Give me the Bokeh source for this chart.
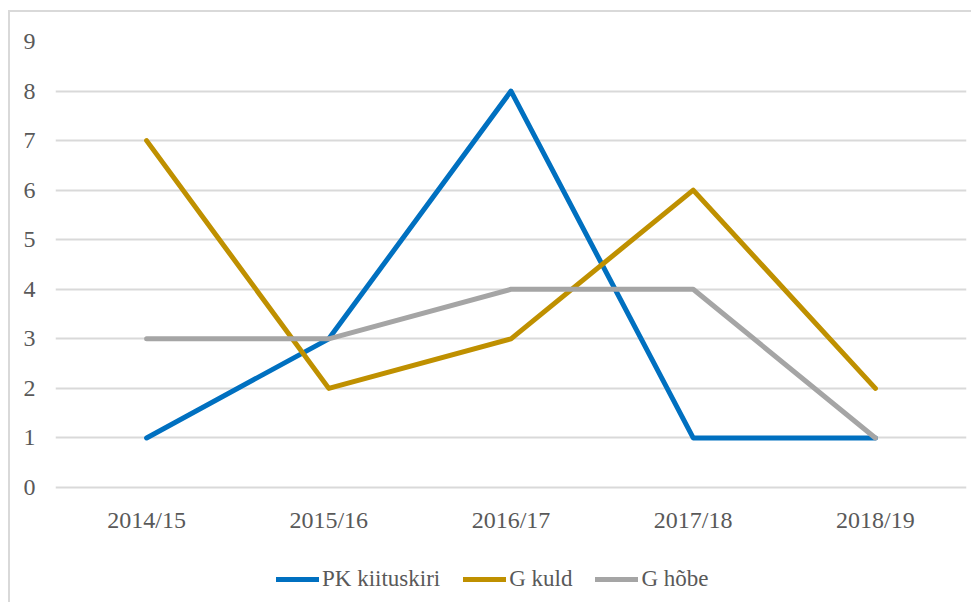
from bokeh.plotting import figure
from bokeh.models import FactorRange, Range1d, FixedTicker, Legend, LegendItem
from bokeh.embed import file_html
from bokeh.resources import INLINE

seasons = ["2014/15", "2015/16", "2016/17", "2017/18", "2018/19"]
pk_kiituskiri = [1, 3, 8, 1, 1]
g_kuld = [7, 2, 3, 6, 2]
g_hobe = [3, 3, 4, 4, 1]
y_ticks = [0, 1, 2, 3, 4, 5, 6, 7, 8, 9]

FONT = "Liberation Serif"
TXT = "#595959"

# frame reaches down to the legend row; value 0 sits 115px above the frame bottom
p = figure(x_range=FactorRange(*seasons), y_range=Range1d(-2.3206, 9),
           frame_width=911, frame_height=561,
           min_border_left=45, min_border_top=29, min_border_right=5, min_border_bottom=0,
           output_backend="svg", toolbar_location=None)
p.styles = {"margin-left": "8px", "margin-top": "10px",
            "border-top": "2px solid #D9D9D9", "border-left": "2px solid #D9D9D9"}
p.outline_line_color = None
p.background_fill_color = "white"
p.border_fill_color = "white"

p.xgrid.grid_line_color = None
p.ygrid.grid_line_color = "#D9D9D9"
p.ygrid.grid_line_width = 2
p.yaxis.ticker = FixedTicker(ticks=y_ticks)
p.xaxis.fixed_location = 0

for ax in (p.xaxis[0], p.yaxis[0]):
    ax.axis_line_color = None
    ax.major_tick_line_color = None
    ax.minor_tick_line_color = None
    ax.major_tick_out = 0
    ax.major_tick_in = 0
    ax.major_label_text_font = FONT
    ax.major_label_text_font_size = "24px"
    ax.major_label_text_color = TXT
p.yaxis.major_label_standoff = 20
p.xaxis.major_label_standoff = 19

r1 = p.line(seasons, pk_kiituskiri, line_color="#0070C0", line_width=5, line_cap="round", line_join="round")
r2 = p.line(seasons, g_kuld, line_color="#BF9000", line_width=5, line_cap="round", line_join="round")
r3 = p.line(seasons, g_hobe, line_color="#A5A5A5", line_width=5, line_cap="round", line_join="round")

legend = Legend(items=[LegendItem(label="PK kiituskiri", renderers=[r1]),
                       LegendItem(label="G kuld", renderers=[r2]),
                       LegendItem(label="G hõbe", renderers=[r3])],
                orientation="horizontal", location=(221, 10),
                glyph_width=43, glyph_height=20, label_standoff=3, spacing=23,
                padding=0, margin=0, border_line_color=None, background_fill_alpha=0,
                label_text_font=FONT, label_text_font_size="23px", label_text_color=TXT)
p.add_layout(legend, "center")

open("out.html", "w").write(file_html(p, INLINE))
